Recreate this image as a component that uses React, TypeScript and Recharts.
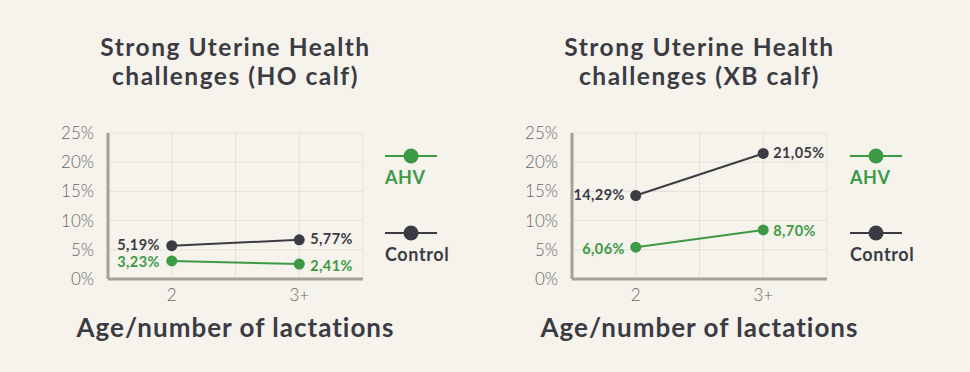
import React from 'react';
import { LineChart, Line, XAxis, YAxis, CartesianGrid, Legend, LabelList } from 'recharts';

const lactations = ['2', '3+'];
const yTicks = [0, 5, 10, 15, 20, 25];

// HO calf
const hoAhv = [3.1, 2.55];
const hoControl = [5.7, 6.7];
const hoAhvLabels = ['3,23%', '2,41%'];
const hoControlLabels = ['5,19%', '5,77%'];

// XB calf
const xbAhv = [5.45, 8.4];
const xbControl = [14.3, 21.5];
const xbAhvLabels = ['6,06%', '8,70%'];
const xbControlLabels = ['14,29%', '21,05%'];

const GREEN = '#3c9a45';
const DARK = '#3b3c43';
const BG = '#f6f3ed';
const FONT = 'Lato, "Noto Sans", sans-serif';

const buildRows = (ahv: number[], control: number[], ahvLbl: string[], ctrlLbl: string[]) =>
  lactations.map((name, i) => ({
    name,
    ahv: ahv[i],
    control: control[i],
    ahvLabel: ahvLbl[i],
    controlLabel: ctrlLbl[i],
  }));

const makeLabel = (color: string, gapLeft: number, gapRight: number, nudge: number) => (props: any) => {
  const { x, y, value, index } = props;
  const first = index === 0;
  return (
    <text
      x={first ? x - gapLeft : x + gapRight}
      y={y + nudge}
      textAnchor={first ? 'end' : 'start'}
      dominantBaseline="central"
      fill={color}
      fontSize={14.5}
      fontWeight={700}
      fontFamily={FONT}
      letterSpacing={0.4}
    >
      {value}
    </text>
  );
};

const LegendContent = (props: any) => {
  const items = props.payload || [];
  return (
    <div style={{ fontFamily: FONT }}>
      {items.map((it: any, i: number) => (
        <div key={it.value} style={{ marginBottom: i === 0 ? 37 : 0 }}>
          <svg width={53} height={18} style={{ display: 'block' }}>
            <line x1={0} x2={52} y1={9} y2={9} stroke={it.color} strokeWidth={2} />
            <circle cx={26} cy={9} r={7.5} fill={it.color} />
          </svg>
          <div
            style={{
              marginTop: 2,
              fontSize: 18,
              lineHeight: '20px',
              fontWeight: 700,
              color: it.color,
              letterSpacing: 0.6,
            }}
          >
            {it.value}
          </div>
        </div>
      ))}
    </div>
  );
};

interface PanelProps {
  title: string[];
  rows: any[];
  left: number;
  marginLeft: number;
  marginRight: number;
  legendLeft: number;
  gapLeft: number;
  gapRight: number;
}

const W = 485;
const H = 372;
const Y_AXIS_W = 50;

const headingStyle: React.CSSProperties = {
  position: 'absolute',
  textAlign: 'center',
  fontFamily: FONT,
  fontWeight: 700,
  color: DARK,
  whiteSpace: 'nowrap',
};

const Panel: React.FC<PanelProps> = ({ title, rows, left, marginLeft, marginRight, legendLeft, gapLeft, gapRight }) => {
  const plotLeft = marginLeft + Y_AXIS_W;
  const plotWidth = W - plotLeft - marginRight;
  const titleBox = { left: plotLeft - 60, width: plotWidth + 120, fontSize: 24.5, lineHeight: '29.4px', letterSpacing: 1.5 };
  return (
    <div style={{ position: 'absolute', left, top: 0, width: W, height: H }}>
      <div style={{ ...headingStyle, ...titleBox, top: 32 }}>{title[0]}</div>
      <div style={{ ...headingStyle, ...titleBox, top: 61.4 }}>{title[1]}</div>
      <LineChart
        width={W}
        height={H}
        data={rows}
        margin={{ top: 133, right: marginRight, bottom: 63, left: marginLeft }}
      >
        <CartesianGrid
          stroke="#e3e0d9"
          strokeWidth={1}
          verticalCoordinatesGenerator={({ offset }: any) =>
            [0, 1, 2, 3, 4].map((i) => offset.left + (offset.width * i) / 4)
          }
        />
        <XAxis
          dataKey="name"
          scale="band"
          axisLine={{ stroke: '#a4a098', strokeWidth: 3 }}
          tickLine={false}
          tickSize={0}
          tickMargin={10}
          height={30}
          tick={{ fill: '#6a6865', fontSize: 17, fontWeight: 300, fontFamily: FONT }}
        />
        <YAxis
          width={Y_AXIS_W}
          domain={[0, 25]}
          ticks={yTicks}
          tickFormatter={(v: number) => `${v}%`}
          axisLine={{ stroke: '#a4a098', strokeWidth: 3 }}
          tickLine={false}
          tickSize={0}
          tickMargin={14}
          tick={{ fill: '#6a6865', fontSize: 17, fontWeight: 300, fontFamily: FONT }}
        />
        <Legend
          layout="vertical"
          align="center"
          verticalAlign="middle"
          content={<LegendContent />}
          wrapperStyle={{ left: legendLeft, top: 146.7, width: 90 }}
        />
        <Line
          name="AHV"
          dataKey="ahv"
          stroke={GREEN}
          strokeWidth={2}
          dot={{ r: 5.5, fill: GREEN, stroke: GREEN, strokeWidth: 0 }}
          activeDot={false}
          isAnimationActive={false}
        >
          <LabelList dataKey="ahvLabel" content={makeLabel(GREEN, gapLeft, gapRight, 1)} />
        </Line>
        <Line
          name="Control"
          dataKey="control"
          stroke={DARK}
          strokeWidth={2}
          dot={{ r: 5.5, fill: DARK, stroke: DARK, strokeWidth: 0 }}
          activeDot={false}
          isAnimationActive={false}
        >
          <LabelList dataKey="controlLabel" content={makeLabel(DARK, gapLeft, gapRight, -1)} />
        </Line>
      </LineChart>
      <div
        style={{
          ...headingStyle,
          left: plotLeft - 80,
          width: plotWidth + 160,
          top: 312.6,
          fontSize: 26,
          lineHeight: '28px',
          letterSpacing: 1.0,
        }}
      >
        Age/number of lactations
      </div>
    </div>
  );
};

export default function App() {
  return (
    <div style={{ position: 'fixed', left: 0, top: 0, width: 970, height: 372, background: BG, overflow: 'hidden' }}>
      <Panel
        title={['Strong Uterine Health', 'challenges (HO calf)']}
        rows={buildRows(hoAhv, hoControl, hoAhvLabels, hoControlLabels)}
        left={0}
        marginLeft={58}
        marginRight={122}
        legendLeft={385}
        gapLeft={12}
        gapRight={11}
      />
      <Panel
        title={['Strong Uterine Health', 'challenges (XB calf)']}
        rows={buildRows(xbAhv, xbControl, xbAhvLabels, xbControlLabels)}
        left={485}
        marginLeft={37}
        marginRight={143}
        legendLeft={365}
        gapLeft={11}
        gapRight={10}
      />
    </div>
  );
}
